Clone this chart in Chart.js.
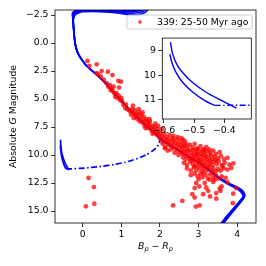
<!DOCTYPE html>
<html><head><meta charset="utf-8">
<script src="https://cdn.jsdelivr.net/npm/chart.js@4.4.0/dist/chart.umd.min.js"></script>
<style>
html,body{margin:0;padding:0;background:#fff;width:266px;height:266px;overflow:hidden}
#wrap{position:relative;width:266px;height:266px}
#main{position:absolute;left:0;top:0;width:266px;height:266px}
#inset{position:absolute;left:130px;top:30px;width:126px;height:105px}
</style></head><body>
<div id="wrap"><canvas id="main" width="266" height="266"></canvas><canvas id="inset" width="126" height="105"></canvas></div>
<script>
// ---- data ----
const xTicks = [0, 1, 2, 3, 4];
const yTicks = [-2.5, 0, 2.5, 5, 7.5, 10, 12.5, 15];
const insetXTicks = [-0.6, -0.5, -0.4];
const insetYTicks = [9, 10, 11];
const legendLabel = '339: 25-50 Myr ago';

const stars = [
 [0.12,1.6],[0.17,2.05],[0.36,1.9],[0.49,2.5],[0.65,2.56],[0.77,2.86],[0.36,2.7],[0.40,2.8],[0.47,3.0],[0.92,3.37],
 [0.99,3.45],[0.62,3.6],[0.66,3.9],[0.70,3.75],[0.75,4.05],[0.80,3.9],[0.94,3.98],[0.88,4.5],[0.82,4.5],[0.84,4.8],
 [0.93,4.7],[0.97,5.1],[1.02,5.2],[1.05,5.5],[1.10,5.8],[1.20,6.0],[1.23,6.1],[1.30,6.25],[1.35,6.4],[1.38,6.6],
 [0.55,3.3],[0.72,4.2],[0.78,4.3],[0.9,4.9],[1.0,4.9],[1.12,5.5],[1.15,5.9],
 [1.25,6.4],[1.28,5.9],[1.32,6.7],[1.4,6.3],[1.42,6.8],[1.45,6.5],[1.48,7.0],[1.5,6.7],[1.52,6.4],[1.55,7.1],
 [1.57,6.9],[1.6,7.4],[1.62,7.0],[1.65,6.8],[1.67,7.3],[1.7,7.6],[1.72,7.2],[1.74,7.0],[1.76,7.5],[1.78,7.8],
 [1.8,7.4],[1.83,7.7],[1.85,8.0],[1.87,7.5],[1.9,7.9],[1.92,8.2],[1.94,7.7],[1.96,8.0],[1.98,8.4],[2.0,8.1],
 [1.58,6.6],[1.68,7.0],[1.88,7.2],[1.35,6.0],[1.46,6.2],[1.63,7.6],[1.81,8.1],[1.73,6.8],[2.05,7.7],[1.95,7.4],
 [1.3,5.6],[1.45,5.9],[1.55,6.2],
 [2.02,8.6],[2.05,8.3],[2.08,8.8],[2.1,8.5],[2.12,8.1],[2.14,9.26],[2.15,8.7],[2.18,8.4],[2.2,8.9],[2.22,8.6],
 [2.24,9.1],[2.25,8.2],[2.27,8.8],[2.3,9.2],[2.32,8.5],[2.33,9.0],[2.35,8.7],[2.37,9.4],[2.4,8.9],[2.42,9.2],
 [2.44,8.6],[2.45,9.6],[2.47,9.0],[2.5,9.3],[2.52,8.8],[2.53,9.7],[2.55,9.1],[2.57,9.5],[2.6,8.66],[2.58,9.9],
 [2.6,9.3],[2.62,9.0],[2.13,9.4],[2.28,9.5],[2.38,9.8],[2.48,10.0],[2.2,9.6],[2.07,9.0],[2.35,8.3],[2.46,8.4],
 [2.56,8.5],[2.65,8.8],[2.7,9.1],
 [2.65,9.2],[2.72,9.45],[2.78,9.1],[2.85,9.35],[2.9,9.0],[2.97,9.4],[3.05,9.2],[3.12,9.5],[3.2,9.3],[2.68,9.6],[3.28,9.5],
 [2.62,9.75],[2.7,9.9],[2.75,9.6],[2.8,9.8],[2.85,9.55],[2.88,9.95],[2.93,9.7],[2.98,9.9],[3.02,9.6],[3.07,9.85],
 [3.12,9.7],[3.18,9.95],[3.22,9.65],[3.3,9.8],[3.38,9.6],[3.45,9.9],[3.55,9.75],[2.95,9.5],[3.15,9.55],
 [2.6,10.2],[2.66,10.4],[2.7,10.1],[2.76,10.3],[2.82,10.05],[2.86,10.4],[2.9,10.2],[2.95,10.0],[2.98,10.35],[3.03,10.15],
 [3.06,10.45],[3.1,10.05],[3.14,10.3],[3.18,10.1],[3.22,10.4],[3.27,10.2],[3.32,10.0],[3.36,10.35],[3.42,10.15],[3.5,10.3],
 [3.58,10.1],[3.66,10.4],[3.75,10.25],[3.0,10.5],[2.8,10.45],[3.3,10.5],[3.45,10.45],
 [2.62,10.7],[2.7,10.9],[2.78,10.6],[2.85,10.8],[2.9,10.55],[2.95,10.95],[3.0,10.7],[3.05,10.9],[3.1,10.6],[3.15,10.85],
 [3.2,10.65],[3.25,10.95],[3.3,10.7],[3.35,10.9],[3.4,10.6],[3.47,10.8],[3.52,10.55],[3.6,10.9],[3.68,10.7],[3.8,10.85],
 [3.9,10.75],[3.62,11.0],[3.13,11.0],[2.9,11.0],
 [2.7,11.2],[2.8,11.4],[2.88,11.1],[2.95,11.35],[3.02,11.15],[3.08,11.45],[3.14,11.2],[3.2,11.4],[3.26,11.1],[3.32,11.35],
 [3.38,11.15],[3.44,11.45],[3.5,11.25],[3.57,11.4],[3.65,11.2],[3.75,11.3],[3.85,11.15],[3.12,11.6],[3.36,11.55],
 [2.8,11.8],[2.9,11.65],[2.98,11.9],[3.05,11.7],[3.1,12.0],[3.18,11.8],[3.24,12.1],[3.3,11.75],[3.38,12.0],[3.45,11.8],
 [3.52,12.1],[3.6,11.9],[3.7,12.05],[3.42,12.2],[3.0,12.15],[3.29,12.2],
 [2.94,12.5],[3.16,12.5],[3.02,12.8],[3.2,12.9],[2.9,12.95],[3.6,12.8],[3.38,12.4],[3.75,12.45],[2.84,13.5],[2.9,13.8],
 [3.12,13.5],[3.3,13.7],[3.46,13.4],[3.46,13.9],[3.57,13.2],[3.9,13.45],[3.98,12.95],[2.34,14.5],[2.58,14.1],[2.93,14.6],
 [3.03,14.5],[3.89,14.3],[3.55,13.0],[3.25,13.2],
 [0.15,12.05],[0.29,12.86],[0.08,14.58],[0.3,14.35]
];

// isochrone tracks (solid)
const top1 = [[1.6,-3.2],[1.45,-2.98],[1.2,-2.92],[0.6,-2.93],[0.0,-2.93],[-0.15,-2.9],[-0.24,-2.8],[-0.27,-2.6],[-0.26,-2.3]];
const top2 = [[1.65,-3.2],[1.5,-2.92],[1.25,-2.82],[0.9,-2.86],[0.4,-2.88],[0.0,-2.87],[-0.14,-2.83],[-0.22,-2.72],[-0.26,-2.5],[-0.25,-2.2]];
const top3 = [[1.7,-3.2],[1.55,-2.82],[1.35,-2.68],[1.1,-2.7],[0.8,-2.8],[0.3,-2.84],[0.0,-2.84],[-0.12,-2.78],[-0.2,-2.65],[-0.24,-2.45],[-0.25,-2.15]];
const top4 = [[1.75,-3.2],[1.6,-2.7],[1.4,-2.52],[1.15,-2.56],[0.9,-2.7],[0.5,-2.8],[0.0,-2.8],[-0.1,-2.72],[-0.18,-2.58],[-0.22,-2.38],[-0.24,-2.1]];
const msUpper = [[-0.25,-2.0],[-0.23,-1.0],[-0.2,0.0],[-0.15,0.7],[-0.08,1.2],[0.0,1.6],[0.1,2.05],[0.27,2.56],[0.45,3.1],[0.6,3.6],
 [0.8,4.4],[1.0,5.15],[1.2,5.9],[1.4,6.6],[1.6,7.25],[1.8,7.85],[2.0,8.5],[2.2,9.0],[2.4,9.4],[2.6,9.85]];
const msLowA = [[2.8,10.25],[3.0,10.65],[3.2,11.15],[3.4,11.7],[3.6,12.2],[3.8,12.6],[4.0,12.95],[4.12,13.25],[4.18,13.6],[4.14,13.9],[4.0,14.5],[3.8,15.3],[3.62,16.1],[3.55,16.5]];
const msLowB = [[2.8,10.28],[3.0,10.69],[3.2,11.19],[3.4,11.74],[3.6,12.25],[3.8,12.66],[4.0,13.02],[4.11,13.33],[4.16,13.65],[4.11,13.95],[3.97,14.52],[3.77,15.3],[3.59,16.1],[3.52,16.5]];
const msLowC = [[2.8,10.22],[3.0,10.62],[3.2,11.11],[3.4,11.66],[3.6,12.15],[3.8,12.54],[4.01,12.88],[4.14,13.17],[4.2,13.55],[4.17,13.87],[4.03,14.48],[3.83,15.3],[3.65,16.1],[3.58,16.5]];
// faint lower-left tracks (inset region)
const pmsUpper = [[-0.578,8.64],[-0.572,9.07],[-0.558,9.53],[-0.536,9.92],[-0.503,10.32],[-0.459,10.71],[-0.415,11.0],[-0.36,11.35]];
const pmsLower = [[-0.58,9.13],[-0.572,9.53],[-0.558,9.92],[-0.536,10.32],[-0.503,10.71],[-0.465,11.04],[-0.432,11.24]];
const dashDot = [[-0.432,11.24],[-0.3,11.23],[-0.1,11.2],[0.2,11.12],[0.5,11.0],[0.8,10.85],[1.1,10.65],[1.3,10.45],[1.5,10.2],[1.65,9.97],[1.8,9.65],[1.9,9.35],[1.97,9.05],[2.0,8.7],[2.0,8.4]];

// ---- build ----
const iso1 = top1.concat(msUpper, msLowA);
const iso2 = top2.concat(msUpper, msLowB);
const iso3 = top3.concat(msUpper, msLowC);
const iso4 = top4.concat(msUpper.slice(0, 4));
const pts = a => a.map(p => ({x: p[0], y: p[1]}));
const FONT = 'DejaVu Sans';
const FS = 9.3;
const minus = s => s.replace('-', '\u2212');
const BLUE = '#0000ff';
const lineDs = (arr, extra) => Object.assign({data: pts(arr), showLine: true, pointRadius: 0, borderColor: BLUE, borderWidth: 1.7, fill: false, tension: 0.25}, extra || {});

const axisCommon = (ticksArr, fmt) => ({
  type: 'linear',
  afterBuildTicks: s => { s.ticks = ticksArr.map(v => ({value: v})); },
  ticks: {color: '#000', font: {family: FONT, size: FS}, padding: 2.5, callback: fmt, maxRotation: 0, autoSkip: false},
  grid: {drawOnChartArea: false, drawTicks: true, tickLength: 4, color: '#000', lineWidth: 0.8},
  border: {display: false}
});

const mainDeco = {
  id: 'mainDeco',
  afterDraw(chart) {
    const {ctx, chartArea: a} = chart;
    ctx.save();
    ctx.strokeStyle = '#000'; ctx.lineWidth = 0.8;
    ctx.strokeRect(a.left, a.top, a.right - a.left, a.bottom - a.top);
    // legend
    const lx = 127, ly = 15, lw = 125, lh = 14, r = 2;
    ctx.beginPath();
    ctx.moveTo(lx + r, ly); ctx.lineTo(lx + lw - r, ly); ctx.arcTo(lx + lw, ly, lx + lw, ly + r, r);
    ctx.lineTo(lx + lw, ly + lh - r); ctx.arcTo(lx + lw, ly + lh, lx + lw - r, ly + lh, r);
    ctx.lineTo(lx + r, ly + lh); ctx.arcTo(lx, ly + lh, lx, ly + lh - r, r);
    ctx.lineTo(lx, ly + r); ctx.arcTo(lx, ly, lx + r, ly, r); ctx.closePath();
    ctx.fillStyle = 'rgba(255,255,255,0.8)'; ctx.fill();
    ctx.strokeStyle = '#cccccc'; ctx.lineWidth = 1; ctx.stroke();
    ctx.fillStyle = 'rgba(255,0,0,0.8)';
    ctx.beginPath(); ctx.arc(140, 22, 1.8, 0, Math.PI * 2); ctx.fill();
    ctx.fillStyle = '#000'; ctx.font = FS + 'px "' + FONT + '"';
    ctx.textBaseline = 'middle'; ctx.textAlign = 'left';
    ctx.fillText(legendLabel, 157, 22.5);
    // y title
    ctx.save();
    ctx.translate(14, (a.top + a.bottom) / 2);
    ctx.rotate(-Math.PI / 2);
    const nF = FS + 'px "' + FONT + '"', iF = 'italic ' + FS + 'px "' + FONT + '"';
    const parts = [['Absolute ', nF], ['G', iF], [' Magnitude', nF]];
    let tot = 0; parts.forEach(p => { ctx.font = p[1]; tot += ctx.measureText(p[0]).width; });
    let x = -tot / 2;
    ctx.textBaseline = 'middle';
    parts.forEach(p => { ctx.font = p[1]; ctx.fillText(p[0], x, 0); x += ctx.measureText(p[0]).width; });
    ctx.restore();
    // x title  B_p - R_p
    const sF = 'italic 6.6px "' + FONT + '"';
    const xp = [['B', iF, 0], ['p', sF, 2], [' \u2212 ', nF, 0], ['R', iF, 0], ['p', sF, 2]];
    tot = 0; xp.forEach(p => { ctx.font = p[1]; tot += ctx.measureText(p[0]).width; });
    x = (a.left + a.right) / 2 - tot / 2;
    ctx.textBaseline = 'alphabetic';
    xp.forEach(p => { ctx.font = p[1]; ctx.fillText(p[0], x, 249 + p[2]); x += ctx.measureText(p[0]).width; });
    ctx.restore();
  }
};

new Chart(document.getElementById('main'), {
  type: 'scatter',
  data: {datasets: [
    {data: pts(stars), pointRadius: 2.4, pointBorderWidth: 0, backgroundColor: 'rgba(255,0,0,0.75)', borderColor: 'rgba(0,0,0,0)', showLine: false},
    lineDs(iso1), lineDs(iso2), lineDs(iso3), lineDs(iso4),
    lineDs(pmsUpper), lineDs(pmsLower),
    lineDs(dashDot, {borderDash: [6, 2.5, 1.5, 2.5], tension: 0.2})
  ]},
  options: {
    animation: false, responsive: false, devicePixelRatio: 1,
    layout: {padding: {top: 10, right: 10, left: 0, bottom: 0}},
    plugins: {legend: {display: false}, tooltip: {enabled: false}},
    scales: {
      x: Object.assign(axisCommon(xTicks, v => minus(String(v))), {min: -0.72, max: 4.49, afterFit: s => { s.height = 43; }}),
      y: Object.assign(axisCommon(yTicks, v => minus(v.toFixed(1))), {min: -2.95, max: 16.07, reverse: true, afterFit: s => { s.width = 55; }})
    }
  },
  plugins: [mainDeco]
});

const insetDeco = {
  id: 'insetDeco',
  beforeDatasetsDraw(chart) {
    const {ctx, chartArea: a} = chart;
    ctx.save(); ctx.fillStyle = '#fff';
    ctx.fillRect(a.left, a.top, a.right - a.left, a.bottom - a.top); ctx.restore();
  },
  afterDraw(chart) {
    const {ctx, chartArea: a} = chart;
    ctx.save(); ctx.strokeStyle = '#000'; ctx.lineWidth = 0.8;
    ctx.strokeRect(a.left, a.top, a.right - a.left, a.bottom - a.top); ctx.restore();
  }
};

new Chart(document.getElementById('inset'), {
  type: 'scatter',
  data: {datasets: [
    lineDs(pmsUpper, {borderWidth: 1.4}), lineDs(pmsLower, {borderWidth: 1.4}),
    lineDs(dashDot, {borderWidth: 1.4, borderDash: [6, 2.5, 1.5, 2.5], tension: 0})
  ]},
  options: {
    animation: false, responsive: false, devicePixelRatio: 1,
    layout: {padding: {top: 5, right: 4.7, left: 0, bottom: 0}},
    plugins: {legend: {display: false}, tooltip: {enabled: false}},
    scales: {
      x: Object.assign(axisCommon(insetXTicks, v => minus(v.toFixed(1))), {min: -0.605, max: -0.311, afterFit: s => { s.height = 16; }}),
      y: Object.assign(axisCommon(insetYTicks, v => String(v)), {min: 8.47, max: 11.8, reverse: true, afterFit: s => { s.width = 32.3; }})
    }
  },
  plugins: [insetDeco]
});
</script></body></html>
